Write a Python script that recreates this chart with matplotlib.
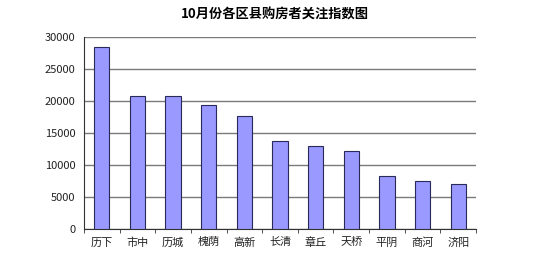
import matplotlib
matplotlib.use("Agg")
import matplotlib.pyplot as plt
import numpy as np

plt.rcParams['font.family'] = ['Noto Sans CJK SC', 'DejaVu Sans']

districts = ["历下", "市中", "历城", "槐荫", "高新", "长清", "章丘", "天桥", "平阴", "商河", "济阳"]
values = [28500, 20800, 20800, 19400, 17600, 13800, 13000, 12200, 8300, 7500, 7100]
yticks = [0, 5000, 10000, 15000, 20000, 25000, 30000]

fig = plt.figure(figsize=(5.5, 2.54), dpi=100)
ax = fig.add_axes([84 / 550, 1 - 229 / 254, 392 / 550, 192 / 254])

x = np.arange(len(districts))
ax.bar(x, values, width=0.43, color="#9999ff", edgecolor="#2a2a5a", linewidth=0.8, zorder=3)

ax.set_xlim(-0.5, len(districts) - 0.5)
ax.set_ylim(0, 30000)
ax.set_yticks(yticks)
ax.set_yticklabels([str(v) for v in yticks], fontsize=8, color="#222222")
ax.yaxis.grid(True, color="#7a7a7a", linewidth=1.0, zorder=0)
ax.tick_params(axis="y", length=0, pad=6)

ax.set_xticks(x)
ax.set_xticklabels(districts, fontsize=8, color="#222222")
ax.set_xticks(np.arange(len(districts) + 1) - 0.5, minor=True)
ax.tick_params(axis="x", which="major", length=0, pad=6)
ax.tick_params(axis="x", which="minor", length=3, direction="out", color="#333333")

for s in ["top", "right"]:
    ax.spines[s].set_visible(False)
ax.spines["left"].set_color("#333333")
ax.spines["bottom"].set_color("#333333")

fig.suptitle("10月份各区县购房者关注指数图", fontsize=9.5, fontweight="bold", y=0.97)

fig.savefig("out.png", dpi=100)
